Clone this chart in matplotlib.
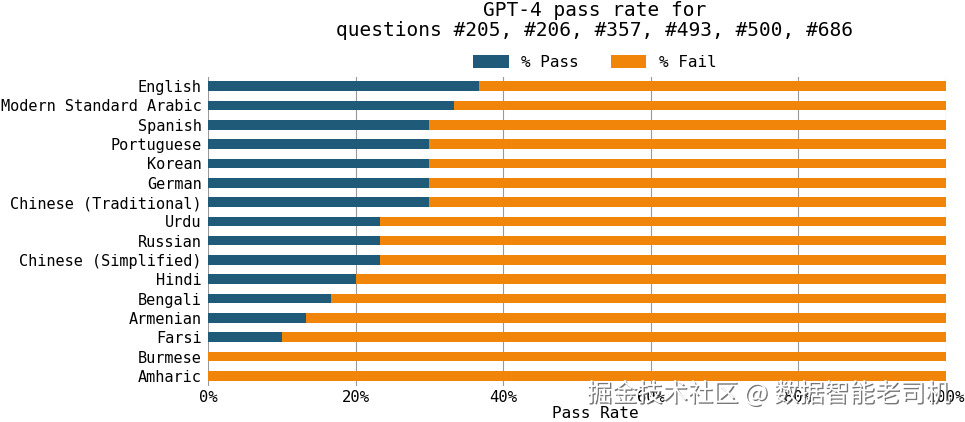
import numpy as np, matplotlib
matplotlib.use("Agg")
import matplotlib.pyplot as plt
import matplotlib.patheffects as pe

languages = ["English", "Modern Standard Arabic", "Spanish", "Portuguese", "Korean",
             "German", "Chinese (Traditional)", "Urdu", "Russian", "Chinese (Simplified)",
             "Hindi", "Bengali", "Armenian", "Farsi", "Burmese", "Amharic"]
pass_rate = [11/30, 10/30, 9/30, 9/30, 9/30, 9/30, 9/30, 7/30, 7/30, 7/30,
             6/30, 5/30, 4/30, 3/30, 0.0, 0.0]
fail_rate = [1 - p for p in pass_rate]
xticks = [0, 0.2, 0.4, 0.6, 0.8, 1.0]
xtick_labels = ["0%", "20%", "40%", "60%", "80%", "100%"]

plt.rcParams['font.family'] = ['DejaVu Sans Mono']
fig = plt.figure(figsize=(9.65, 4.22), dpi=100)
ax = fig.add_axes([208/965, 1 - 385.5/422, 738/965, 309/422])

y = np.arange(len(languages))
ax.barh(y, pass_rate, height=0.5, color="#1f5b78", label="% Pass", zorder=2)
ax.barh(y, fail_rate, left=pass_rate, height=0.5, color="#f0850a", label="% Fail", zorder=2)
ax.set_ylim(len(languages) - 0.5, -0.5)
ax.set_yticks(y)
ax.set_yticklabels(languages, fontsize=11)
ax.set_xlim(0, 1.0)
ax.set_xticks(xticks)
ax.set_xticklabels(xtick_labels, fontsize=11.2)
ax.tick_params(axis="y", length=0, pad=4.5)
ax.tick_params(axis="x", length=0, pad=3)
ax.grid(axis="x", color="#999999", linewidth=0.8, zorder=0)
for s in ax.spines.values():
    s.set_visible(False)

cx = (595 - 208) / 738
ax.set_xlabel("Pass Rate", fontsize=11.5, labelpad=1)
ax.xaxis.label.set_x(cx)
ax.set_title("GPT-4 pass rate for\nquestions #205, #206, #357, #493, #500, #686",
             fontsize=14, x=cx, y=1.0, pad=29, linespacing=1.1)
ax.legend(loc="lower center", bbox_to_anchor=(cx, 0.99), ncol=2, frameon=False,
          fontsize=11.5, handlelength=2.2, handleheight=0.9, columnspacing=2.0,
          borderaxespad=0.2)

# watermark
fig.text(950/965, 1 - 394/422, "掘金技术社区 @ 数据智能老司机", ha="right", va="center",
         fontsize=18.2, color="white", family=["Noto Sans CJK SC", "DejaVu Sans"],
         path_effects=[pe.withSimplePatchShadow(offset=(1, -1), shadow_rgbFace="#555555", alpha=0.8)])

plt.savefig("out.png", dpi=100)
